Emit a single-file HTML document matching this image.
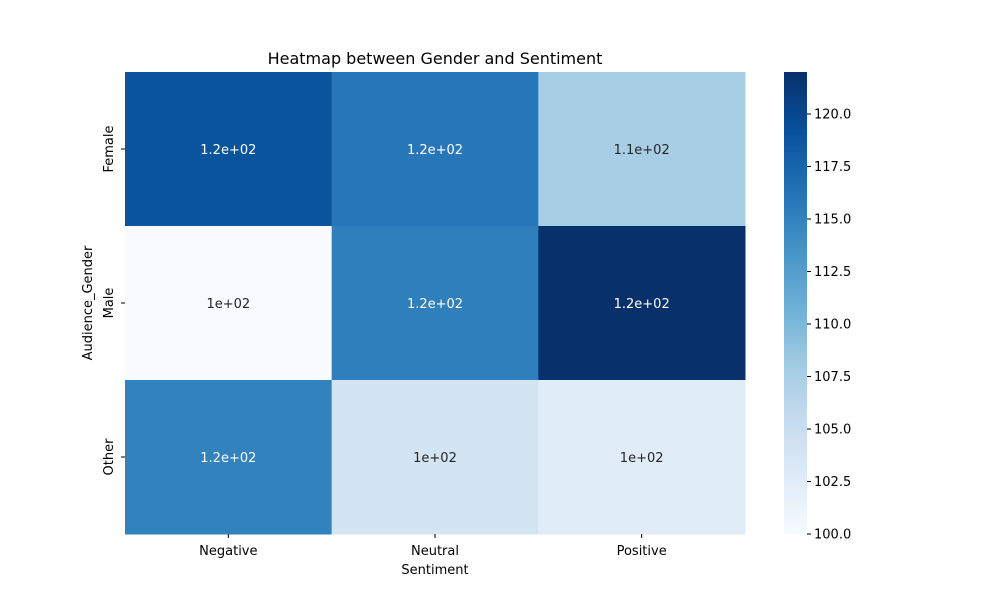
<!DOCTYPE html>
<html><head><meta charset="utf-8">
<style>
body{margin:0;background:#fff;}
svg text{font-family:"DejaVu Sans","Liberation Sans",sans-serif;}
</style></head>
<body>
<svg id="chart" width="1000" height="600" viewBox="0 0 1000 600">
<rect width="1000" height="600" fill="#fff"/>
<text x="435" y="64" text-anchor="middle" font-size="16" fill="#000">Heatmap between Gender and Sentiment</text>
<g id="cells"></g>
<g id="axes"></g>
<g id="cbar"></g>
</svg>
<script>
const xCategories = ["Negative","Neutral","Positive"];
const yCategories = ["Female","Male","Other"];
const values = [
  [119, 116, 107.6],
  [100, 115.3, 122],
  [115.1, 104, 102.5]
];
const cbarTicks = [100,102.5,105,107.5,110,112.5,115,117.5,120];
const vmin = 100, vmax = 122;

const NS="http://www.w3.org/2000/svg";
const X0=125,X1=745,Y0=72,Y1=534;
const cw=(X1-X0)/xCategories.length, ch=(Y1-Y0)/yCategories.length;
const stops=["#f7fbff","#deebf7","#c6dbef","#9ecae1","#6baed6","#4292c6","#2171b5","#08519c","#08306b"].map(h=>[1,3,5].map(i=>parseInt(h.substr(i,2),16)));
function cmap(v){let t=Math.max(0,Math.min(1,(v-vmin)/(vmax-vmin)))*8;let i=Math.min(7,Math.floor(t)),f=t-i;
 return stops[i].map((a,k)=>Math.round(a+(stops[i+1][k]-a)*f));}
function lin(c){c/=255;return c<=0.03928?c/12.92:Math.pow((c+0.055)/1.055,2.4);}
function fmt(v){const e=Math.floor(Math.log10(Math.abs(v)));let m=(v/Math.pow(10,e)).toFixed(1);if(m.endsWith(".0"))m=m.slice(0,-2);return m+"e+"+String(e).padStart(2,"0");}
function el(tag,attrs,parent,txt){const e=document.createElementNS(NS,tag);for(const k in attrs)e.setAttribute(k,attrs[k]);if(txt!==undefined)e.textContent=txt;parent.appendChild(e);return e;}
const cells=document.getElementById("cells"),axes=document.getElementById("axes"),cb=document.getElementById("cbar");
values.forEach((row,r)=>row.forEach((v,c)=>{
 const col=cmap(v);
 const rc=el("rect",{x:X0+c*cw,y:Y0+r*ch,width:cw+0.5,height:ch+0.5,fill:`rgb(${col})`},cells);
 
 
 const lum=0.2126*lin(col[0])+0.7152*lin(col[1])+0.0722*lin(col[2]);
 const t=el("text",{x:X0+(c+0.5)*cw,y:Y0+(r+0.5)*ch+5,"text-anchor":"middle","font-size":"13",fill:lum>0.408?"#262626":"#fff"},cells,fmt(v));
 
 
}));
xCategories.forEach((n,i)=>{const x=X0+(i+0.5)*cw;
 el("line",{x1:x,x2:x,y1:Y1,y2:Y1+4,stroke:"#000"},axes);
 const t=el("text",{x:x,y:Y1+21,"text-anchor":"middle","font-size":"13"},axes,n);
 
 });
yCategories.forEach((n,i)=>{const y=Y0+(i+0.5)*ch;
 el("line",{x1:X0-4,x2:X0,y1:y,y2:y,stroke:"#000"},axes);
 const t=el("text",{x:0,y:0,"text-anchor":"middle","font-size":"13",transform:`translate(113,${y}) rotate(-90)`},axes,n);
 
 });
const xl=el("text",{x:435,y:574,"text-anchor":"middle","font-size":"13"},axes,"Sentiment");


const yl=el("text",{x:0,y:0,"text-anchor":"middle","font-size":"13",transform:`translate(92,303) rotate(-90)`},axes,"Audience_Gender");


const CX=784,CW=23,N=200;
for(let i=0;i<N;i++){const v=vmin+(vmax-vmin)*(i+0.5)/N;const y=Y1-(i+1)*(Y1-Y0)/N;
 el("rect",{x:CX,y:y,width:CW,height:(Y1-Y0)/N+0.6,fill:`rgb(${cmap(v)})`},cb);}
const cbs=(v)=>Y1-(v-vmin)/(vmax-vmin)*(Y1-Y0);
cbarTicks.forEach(v=>{const y=cbs(v);
 el("line",{x1:CX+CW,x2:CX+CW+4,y1:y,y2:y,stroke:"#000"},cb);
 const t=el("text",{x:CX+CW+7,y:y+4.5,"font-size":"13"},cb,v.toFixed(1));
 
 });
</script>
</body></html>
